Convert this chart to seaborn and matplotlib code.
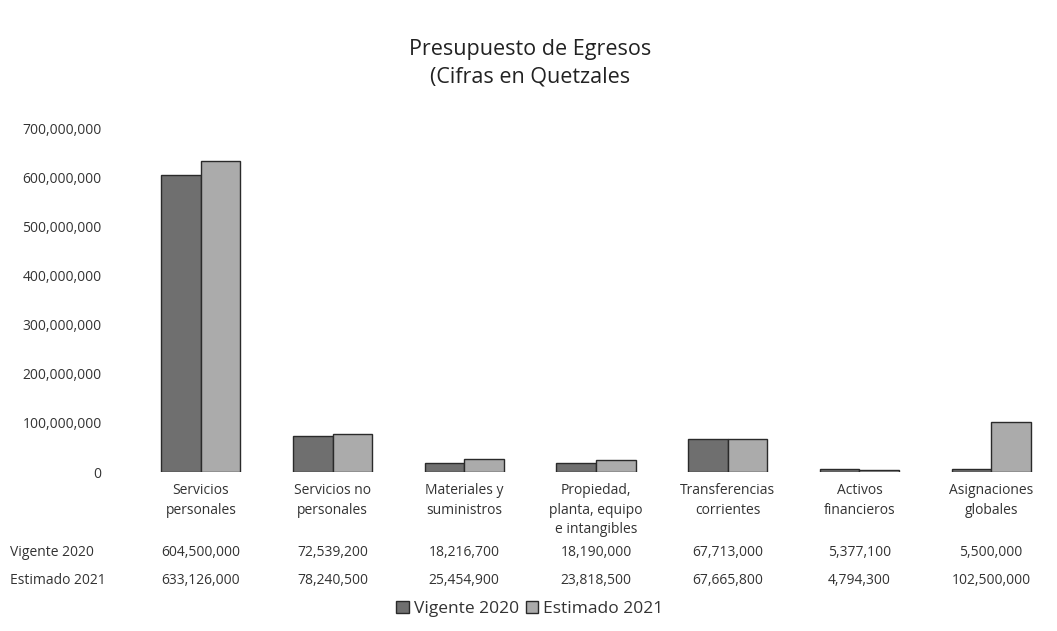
import matplotlib
matplotlib.use("Agg")
import matplotlib.pyplot as plt
import matplotlib.transforms as mtransforms
import seaborn as sns
import pandas as pd

categories = ["Servicios\npersonales", "Servicios no\npersonales", "Materiales y\nsuministros",
              "Propiedad,\nplanta, equipo\ne intangibles", "Transferencias\ncorrientes",
              "Activos\nfinancieros", "Asignaciones\nglobales"]
series = ["Vigente 2020", "Estimado 2021"]
vigente_2020 = [604500000, 72539200, 18216700, 18190000, 67713000, 5377100, 5500000]
estimado_2021 = [633126000, 78240500, 25454900, 23818500, 67665800, 4794300, 102500000]
yticks = [0, 100000000, 200000000, 300000000, 400000000, 500000000, 600000000, 700000000]

sns.set_theme(style="white")
plt.rcParams['font.family'] = ['Open Sans', 'DejaVu Sans']

df = pd.DataFrame({
    "cat": categories * 2,
    "serie": [series[0]] * len(categories) + [series[1]] * len(categories),
    "valor": vigente_2020 + estimado_2021,
})

fig = plt.figure(figsize=(10.57, 6.31), dpi=100)
ax = fig.add_axes([135 / 1057, 1 - 472 / 631, 1 - 135 / 1057, (472 - 128) / 631])
colors = ["#6f6f6f", "#ababab"]
sns.barplot(data=df, x="cat", y="valor", hue="serie", palette=colors, width=0.6,
            edgecolor="#2a2a2a", linewidth=1.0, ax=ax, legend=False)

ax.set_ylim(0, 700000000)
ax.set_xlim(-0.5, len(categories) - 0.5)
ax.set_yticks(yticks)
ax.set_yticklabels([f"{v:,.0f}" for v in yticks], fontsize=10, color="#333333")
ax.tick_params(axis="y", pad=24, length=0)
ax.set_xticks(range(len(categories)))
ax.set_xticklabels(categories, fontsize=10, color="#333333", va="top", linespacing=1.4)
ax.tick_params(axis="x", length=0, pad=8)
ax.set_xlabel("")
ax.set_ylabel("")
for s in ax.spines.values():
    s.set_visible(False)

# data table
trans = mtransforms.blended_transform_factory(ax.transData, fig.transFigure)
rows = [(series[0], vigente_2020, 1 - 552 / 631), (series[1], estimado_2021, 1 - 581 / 631)]
for name, vals, yy in rows:
    fig.text(10 / 1057, yy, name, fontsize=10, color="#333333", va="center", ha="left")
    for i, v in enumerate(vals):
        ax.text(i, yy, f"{v:,.0f}", transform=trans, fontsize=10, color="#333333",
                va="center", ha="center")

# legend
handles = [plt.Rectangle((0, 0), 1, 1, facecolor=c, edgecolor="#2a2a2a") for c in colors]
fig.legend(handles, series, loc="center", bbox_to_anchor=(530 / 1057, 1 - 609 / 631),
           ncol=2, frameon=False, fontsize=12.5, handlelength=0.7, handleheight=0.7,
           handletextpad=0.3, columnspacing=0.4, labelcolor="#333333")

fig.text(530 / 1057, 1 - 63 / 631, "Presupuesto de Egresos\n(Cifras en Quetzales",
         ha="center", va="center", fontsize=15.5, color="#222222", linespacing=1.4)

fig.savefig("out.png", dpi=100)
